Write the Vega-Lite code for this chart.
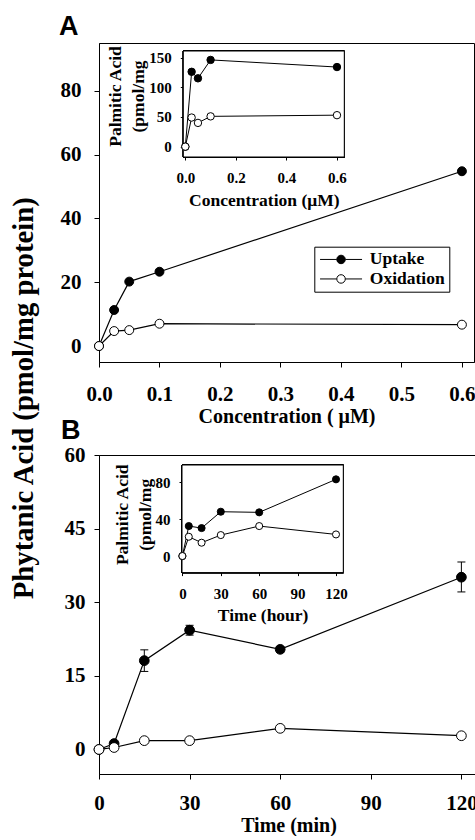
{
  "$schema": "https://vega.github.io/schema/vega-lite/v6.json",
  "background": "white",
  "padding": {"left": 9, "top": 12, "right": 0, "bottom": 0},
  "config": {
    "view": {"stroke": "black", "strokeWidth": 1},
    "axis": {"grid": false, "domainColor": "black", "tickColor": "black", "labelColor": "black", "titleColor": "black", "labelFont": "Liberation Serif", "titleFont": "Liberation Serif", "labelFontWeight": "bold", "titleFontWeight": "bold", "labelFlush": false, "labelOverlap": false, "domainWidth": 1, "tickWidth": 1, "titleLimit": 600}
  },
  "title": {"text": "Phytanic Acid (pmol/mg protein)", "orient": "left", "anchor": "middle", "font": "Liberation Serif", "fontSize": 28.7, "fontWeight": "bold", "color": "black", "offset": 20, "dx": 26},
  "spacing": -11,
  "datasets": {
    "A_main": [
      {"series": "Uptake", "x": 0, "y": 0},
      {"series": "Uptake", "x": 0.025, "y": 11.3},
      {"series": "Uptake", "x": 0.05, "y": 20.2},
      {"series": "Uptake", "x": 0.1, "y": 23.3},
      {"series": "Uptake", "x": 0.6, "y": 54.8},
      {"series": "Oxidation", "x": 0, "y": 0},
      {"series": "Oxidation", "x": 0.025, "y": 4.7},
      {"series": "Oxidation", "x": 0.05, "y": 5.0},
      {"series": "Oxidation", "x": 0.1, "y": 7.0},
      {"series": "Oxidation", "x": 0.6, "y": 6.7}
    ],
    "A_inset": [
      {"series": "Uptake", "x": 0, "y": 0},
      {"series": "Uptake", "x": 0.025, "y": 126},
      {"series": "Uptake", "x": 0.05, "y": 115},
      {"series": "Uptake", "x": 0.1, "y": 146},
      {"series": "Uptake", "x": 0.6, "y": 134},
      {"series": "Oxidation", "x": 0, "y": 0},
      {"series": "Oxidation", "x": 0.025, "y": 49},
      {"series": "Oxidation", "x": 0.05, "y": 40},
      {"series": "Oxidation", "x": 0.1, "y": 51},
      {"series": "Oxidation", "x": 0.6, "y": 53}
    ],
    "B_main": [
      {"series": "Uptake", "x": 0, "y": 0},
      {"series": "Uptake", "x": 5, "y": 1.2},
      {"series": "Uptake", "x": 15, "y": 18.1, "lo": 15.9, "hi": 20.3},
      {"series": "Uptake", "x": 30, "y": 24.3, "lo": 23.3, "hi": 25.3},
      {"series": "Uptake", "x": 60, "y": 20.4, "lo": 19.8, "hi": 21.0},
      {"series": "Uptake", "x": 120, "y": 35.1, "lo": 32.1, "hi": 38.2},
      {"series": "Oxidation", "x": 0, "y": 0},
      {"series": "Oxidation", "x": 5, "y": 0.4},
      {"series": "Oxidation", "x": 15, "y": 1.8},
      {"series": "Oxidation", "x": 30, "y": 1.8},
      {"series": "Oxidation", "x": 60, "y": 4.3},
      {"series": "Oxidation", "x": 120, "y": 2.8}
    ],
    "B_inset": [
      {"series": "Uptake", "x": 0, "y": 0},
      {"series": "Uptake", "x": 5, "y": 32.6},
      {"series": "Uptake", "x": 15, "y": 30.4},
      {"series": "Uptake", "x": 30, "y": 48.2},
      {"series": "Uptake", "x": 60, "y": 47.5},
      {"series": "Uptake", "x": 120, "y": 83.4},
      {"series": "Oxidation", "x": 0, "y": 0},
      {"series": "Oxidation", "x": 5, "y": 21},
      {"series": "Oxidation", "x": 15, "y": 14.5},
      {"series": "Oxidation", "x": 30, "y": 22.8},
      {"series": "Oxidation", "x": 60, "y": 32.6},
      {"series": "Oxidation", "x": 120, "y": 23.5}
    ]
  },
  "vconcat": [
    {
      "title": {"text": "A", "anchor": "start", "frame": "group", "font": "Liberation Sans", "fontSize": 27, "fontWeight": "bold", "color": "black", "dx": -40, "offset": 2},
      "width": 375,
      "height": 319,
      "layer": [
        {
          "data": {"name": "A_main"},
          "encoding": {
            "x": {"field": "x", "type": "quantitative", "scale": {"domain": [0, 0.62], "nice": false, "zero": false},
              "axis": {"orient": "bottom", "values": [0, 0.1, 0.2, 0.3, 0.4, 0.5, 0.6], "format": ".1f", "title": "Concentration ( μM)", "labelFontSize": 21, "titleFontSize": 20, "tickSize": 5, "labelPadding": 16.5, "titlePadding": 2}},
            "y": {"field": "y", "type": "quantitative", "scale": {"domain": [-5, 95], "nice": false, "zero": false},
              "axis": {"orient": "left", "values": [0, 20, 40, 60, 80], "title": null, "labelFontSize": 21, "tickSize": 5, "labelPadding": 13}}
          },
          "layer": [
            {"mark": {"type": "line", "color": "black", "strokeWidth": 1.2}, "encoding": {"detail": {"field": "series"}}},
            {"mark": {"type": "circle", "size": 80, "stroke": "black", "strokeWidth": 1, "opacity": 1},
              "encoding": {"fill": {"field": "series", "type": "nominal", "scale": {"domain": ["Uptake", "Oxidation"], "range": ["black", "white"]},
                "legend": {"title": null, "orient": "none", "legendX": 215.3, "legendY": 203.7, "strokeColor": "black", "padding": 4, "labelFont": "Liberation Serif", "labelFontSize": 17.5, "labelFontWeight": "bold", "labelColor": "black", "labelLimit": 300, "symbolType": "M-4.2,0L-0.85,0M0.85,0L4.2,0M0.85,0A0.85,0.85,0,1,1,-0.85,0A0.85,0.85,0,1,1,0.85,0Z", "symbolSize": 100, "symbolStrokeColor": "black", "symbolStrokeWidth": 1, "rowPadding": 0.5, "symbolOffset": 14, "labelOffset": 20}}}}
          ]
        },
        {
          "data": {"name": "A_inset"},
          "encoding": {
            "x": {"field": "x", "type": "quantitative", "scale": {"domain": [-0.008, 0.629], "range": [84.3, 245.3], "nice": false, "zero": false},
              "axis": {"orient": "bottom", "offset": -205, "values": [0, 0.2, 0.4, 0.6], "format": ".1f", "title": "Concentration (μM)", "labelFontSize": 15, "titleFontSize": 17.5, "tickSize": 3, "labelPadding": 10, "titlePadding": 6}},
            "y": {"field": "y", "type": "quantitative", "scale": {"domain": [-17.4, 161], "range": [114, 8], "nice": false, "zero": false},
              "axis": {"orient": "left", "offset": -84.3, "values": [0, 50, 100, 150], "title": ["Palmitic Acid", "(pmol/mg"], "titleFontSize": 17.5, "titleLineHeight": 23, "titlePadding": 1, "titleY": 53, "labelFontSize": 15, "tickSize": 3, "labelPadding": 9}}
          },
          "layer": [
            {"mark": {"type": "rect", "fill": "white", "stroke": "black", "strokeWidth": 1},
              "encoding": {
                "x": {"datum": -0.008, "type": "quantitative", "scale": {"domain": [-0.008, 0.629], "range": [84.3, 245.3], "nice": false, "zero": false},
                  "axis": {"orient": "bottom", "offset": -205, "values": [0, 0.2, 0.4, 0.6], "format": ".1f", "title": "Concentration (μM)", "labelFontSize": 15, "titleFontSize": 17.5, "tickSize": 3, "labelPadding": 10, "titlePadding": 6}},
                "x2": {"datum": 0.629},
                "y": {"datum": -17.4, "type": "quantitative", "scale": {"domain": [-17.4, 161], "range": [114, 8], "nice": false, "zero": false},
                  "axis": {"orient": "left", "offset": -84.3, "values": [0, 50, 100, 150], "title": ["Palmitic Acid", "(pmol/mg"], "titleFontSize": 17.5, "titleLineHeight": 23, "titlePadding": 1, "titleY": 53, "labelFontSize": 15, "tickSize": 3, "labelPadding": 9}},
                "y2": {"datum": 161}}},
            {"mark": {"type": "line", "color": "black", "strokeWidth": 1}, "encoding": {"detail": {"field": "series"}}},
            {"mark": {"type": "circle", "size": 55, "stroke": "black", "strokeWidth": 1, "opacity": 1},
              "encoding": {"fill": {"condition": {"test": "datum.series === 'Uptake'", "value": "black"}, "value": "white"}}}
          ]
        }
      ],
      "resolve": {"scale": {"x": "independent", "y": "independent"}, "axis": {"x": "independent", "y": "independent"}}
    },
    {
      "title": {"text": "B", "anchor": "start", "frame": "group", "font": "Liberation Sans", "fontSize": 27, "fontWeight": "bold", "color": "black", "dx": -38, "offset": -1},
      "width": 379,
      "height": 319,
      "layer": [
        {
          "data": {"name": "B_main"},
          "encoding": {
            "x": {"field": "x", "type": "quantitative", "scale": {"domain": [0, 125.5], "nice": false, "zero": false},
              "axis": {"orient": "bottom", "values": [0, 30, 60, 90, 120], "title": "Time (min)", "labelFontSize": 21, "titleFontSize": 20, "tickSize": 5, "labelPadding": 13.5, "titlePadding": 2}},
            "y": {"field": "y", "type": "quantitative", "scale": {"domain": [-5, 60], "nice": false, "zero": false},
              "axis": {"orient": "left", "values": [0, 15, 30, 45, 60], "title": null, "labelFontSize": 21, "tickSize": 5, "labelPadding": 9}}
          },
          "layer": [
            {"transform": [{"filter": "isValid(datum.lo)"}], "mark": {"type": "rule", "color": "black", "strokeWidth": 1},
              "encoding": {"y": {"field": "lo", "type": "quantitative", "scale": {"domain": [-5, 60], "nice": false, "zero": false},
                "axis": {"orient": "left", "values": [0, 15, 30, 45, 60], "title": null, "labelFontSize": 21, "tickSize": 5, "labelPadding": 9}}, "y2": {"field": "hi"}}},
            {"transform": [{"filter": "isValid(datum.lo)"}], "mark": {"type": "tick", "orient": "horizontal", "size": 8, "thickness": 1, "color": "black", "opacity": 1},
              "encoding": {"y": {"field": "lo", "type": "quantitative", "scale": {"domain": [-5, 60], "nice": false, "zero": false},
                "axis": {"orient": "left", "values": [0, 15, 30, 45, 60], "title": null, "labelFontSize": 21, "tickSize": 5, "labelPadding": 9}}}},
            {"transform": [{"filter": "isValid(datum.hi)"}], "mark": {"type": "tick", "orient": "horizontal", "size": 8, "thickness": 1, "color": "black", "opacity": 1},
              "encoding": {"y": {"field": "hi", "type": "quantitative", "scale": {"domain": [-5, 60], "nice": false, "zero": false},
                "axis": {"orient": "left", "values": [0, 15, 30, 45, 60], "title": null, "labelFontSize": 21, "tickSize": 5, "labelPadding": 9}}}},
            {"mark": {"type": "line", "color": "black", "strokeWidth": 1.2}, "encoding": {"detail": {"field": "series"}}},
            {"mark": {"type": "circle", "size": 95, "stroke": "black", "strokeWidth": 1, "opacity": 1},
              "encoding": {"fill": {"field": "series", "type": "nominal", "scale": {"domain": ["Uptake", "Oxidation"], "range": ["black", "white"]},
                "legend": {"title": null, "orient": "none", "legendX": 224.7, "legendY": 210.6, "strokeColor": "black", "padding": 4, "labelFont": "Liberation Serif", "labelFontSize": 17.5, "labelFontWeight": "bold", "labelColor": "black", "labelLimit": 300, "symbolType": "M-4.2,0L-0.85,0M0.85,0L4.2,0M0.85,0A0.85,0.85,0,1,1,-0.85,0A0.85,0.85,0,1,1,0.85,0Z", "symbolSize": 100, "symbolStrokeColor": "black", "symbolStrokeWidth": 1, "rowPadding": 0.5, "symbolOffset": 14, "labelOffset": 20}}}}
          ]
        },
        {
          "data": {"name": "B_inset"},
          "encoding": {
            "x": {"field": "x", "type": "quantitative", "scale": {"domain": [-0.3, 125.7], "range": [83, 244.3], "nice": false, "zero": false},
              "axis": {"orient": "bottom", "offset": -201.4, "values": [0, 30, 60, 90, 120], "title": "Time (hour)", "labelFontSize": 15, "titleFontSize": 17.5, "tickSize": 3, "labelPadding": 11, "titlePadding": 5}},
            "y": {"field": "y", "type": "quantitative", "scale": {"domain": [-18, 99], "range": [117.6, 10], "nice": false, "zero": false},
              "axis": {"orient": "left", "offset": -83, "values": [0, 40, 80], "title": ["Palmitic Acid", "(pmol/mg"], "titleFontSize": 17.5, "titleLineHeight": 23, "titlePadding": 1, "titleY": 59.3, "labelFontSize": 15, "tickSize": 3, "labelPadding": 9}}
          },
          "layer": [
            {"mark": {"type": "rect", "fill": "white", "stroke": "black", "strokeWidth": 1},
              "encoding": {
                "x": {"datum": -0.3, "type": "quantitative", "scale": {"domain": [-0.3, 125.7], "range": [83, 244.3], "nice": false, "zero": false},
                  "axis": {"orient": "bottom", "offset": -201.4, "values": [0, 30, 60, 90, 120], "title": "Time (hour)", "labelFontSize": 15, "titleFontSize": 17.5, "tickSize": 3, "labelPadding": 11, "titlePadding": 5}},
                "x2": {"datum": 125.7},
                "y": {"datum": -18, "type": "quantitative", "scale": {"domain": [-18, 99], "range": [117.6, 10], "nice": false, "zero": false},
                  "axis": {"orient": "left", "offset": -83, "values": [0, 40, 80], "title": ["Palmitic Acid", "(pmol/mg"], "titleFontSize": 17.5, "titleLineHeight": 23, "titlePadding": 1, "titleY": 59.3, "labelFontSize": 15, "tickSize": 3, "labelPadding": 9}},
                "y2": {"datum": 99}}},
            {"mark": {"type": "line", "color": "black", "strokeWidth": 1}, "encoding": {"detail": {"field": "series"}}},
            {"mark": {"type": "circle", "size": 50, "stroke": "black", "strokeWidth": 1, "opacity": 1},
              "encoding": {"fill": {"condition": {"test": "datum.series === 'Uptake'", "value": "black"}, "value": "white"}}}
          ]
        }
      ],
      "resolve": {"scale": {"x": "independent", "y": "independent"}, "axis": {"x": "independent", "y": "independent"}}
    }
  ]
}
